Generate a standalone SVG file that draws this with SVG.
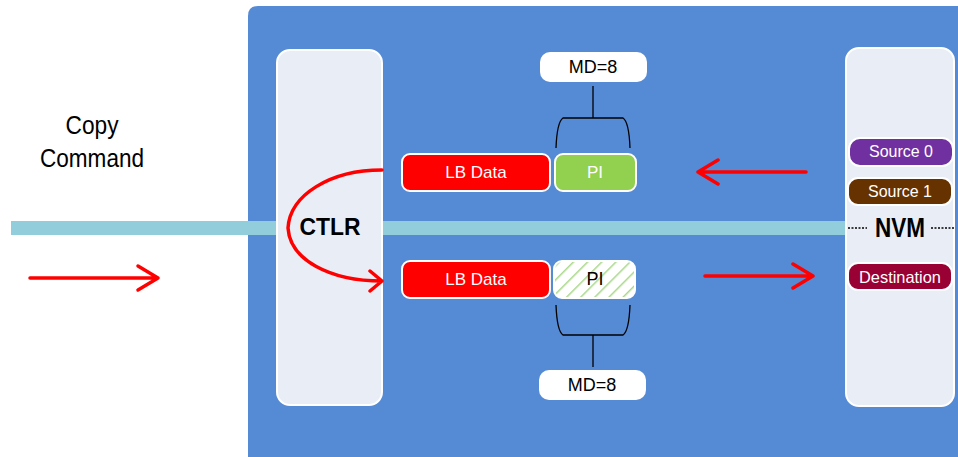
<svg xmlns="http://www.w3.org/2000/svg" width="958" height="457" viewBox="0 0 958 457">
<defs>
<style>
.t{font-family:"Liberation Sans",Arial,sans-serif}
.panel{fill:#e9eef6;stroke:#ffffff;stroke-width:2}
.cell{stroke:#ffffff;stroke-width:2}
.md{fill:#ffffff}
.wt{fill:#ffffff;font-size:17px;text-anchor:middle}
.bt{fill:#000000;font-size:18px;text-anchor:middle}
.pill{fill:#ffffff;font-size:16.5px;text-anchor:middle}
.brk{fill:none;stroke:#000000;stroke-width:1.3}
.red{fill:none;stroke:#ff0000;stroke-width:3.5;stroke-linecap:round;stroke-linejoin:round}
</style>
<pattern id="hatch" patternUnits="userSpaceOnUse" width="10" height="10" patternTransform="rotate(45)">
<rect width="10" height="10" fill="#ffffff"/>
<line x1="0" y1="0" x2="0" y2="10" stroke="#a9d88a" stroke-width="3"/>
</pattern>
</defs>
<rect width="958" height="457" fill="#ffffff"/>
<path d="M248,16 Q248,6 258,6 L958,6 L958,457 L248,457 Z" fill="#558ad5"/>
<rect x="11" y="221" width="840" height="14" fill="#92cddb"/>

<g id="ctlr">
<rect class="panel" x="277" y="50" width="105" height="355" rx="13"/>
<text class="t" x="330" y="235" font-size="24.5" font-weight="bold" text-anchor="middle" textLength="61" lengthAdjust="spacingAndGlyphs">CTLR</text>
</g>

<g id="nvm">
<rect class="panel" x="846" y="48" width="108" height="358" rx="13"/>
<text class="t" x="900" y="237" font-size="27" font-weight="bold" text-anchor="middle" textLength="50" lengthAdjust="spacingAndGlyphs">NVM</text>
<line x1="848" y1="228" x2="867" y2="228" stroke="#000" stroke-width="1.3" stroke-dasharray="2,1.5"/>
<line x1="931" y1="228" x2="954" y2="228" stroke="#000" stroke-width="1.3" stroke-dasharray="2,1.5"/>
</g>
<g id="source0">
<rect class="cell" x="849" y="138" width="104" height="28" rx="11" fill="#7030a0"/>
<text class="t pill" x="901" y="157" textLength="64" lengthAdjust="spacingAndGlyphs">Source 0</text>
</g>
<g id="source1">
<rect class="cell" x="848" y="178" width="104" height="27" rx="10" fill="#663300"/>
<text class="t pill" x="900" y="196.5" textLength="64" lengthAdjust="spacingAndGlyphs">Source 1</text>
</g>
<g id="destination">
<rect class="cell" x="848" y="263" width="104" height="27" rx="10" fill="#990033"/>
<text class="t pill" x="900" y="282.5" textLength="82" lengthAdjust="spacingAndGlyphs">Destination</text>
</g>

<g id="lbdata-top">
<rect class="cell" x="402" y="154" width="148" height="37" rx="8" fill="#ff0000"/>
<text class="t wt" x="476" y="178">LB Data</text>
</g>
<g id="pi-top">
<rect class="cell" x="555" y="154" width="81" height="37" rx="8" fill="#92d050"/>
<text class="t wt" x="595" y="178">PI</text>
</g>
<g id="lbdata-bottom">
<rect class="cell" x="402" y="261" width="148" height="37" rx="8" fill="#ff0000"/>
<text class="t wt" x="476" y="285">LB Data</text>
</g>
<g id="pi-bottom">
<rect class="cell" x="554" y="261" width="81" height="37" rx="8" fill="url(#hatch)"/>
<text class="t bt" x="595" y="285" font-size="17">PI</text>
</g>
<g id="md-top">
<rect class="md" x="540" y="52" width="107" height="30" rx="10"/>
<text class="t bt" x="593" y="73">MD=8</text>
</g>
<g id="md-bottom">
<rect class="md" x="539" y="370" width="107" height="30" rx="10"/>
<text class="t bt" x="592" y="391">MD=8</text>
</g>

<g id="copy-command">
<text class="t" x="92" y="134" font-size="26" text-anchor="middle" textLength="53" lengthAdjust="spacingAndGlyphs">Copy</text>
<text class="t" x="92" y="167" font-size="26" text-anchor="middle" textLength="104" lengthAdjust="spacingAndGlyphs">Command</text>
</g>

<g id="connectors">
<path class="brk" d="M593,86 V118 M556,148 Q557,122 563,118 H623 Q629,122 630,148"/>
<path class="brk" d="M593,367 V335 M556,305 Q557,331 563,335 H623 Q629,331 630,305"/>
<path class="red" d="M30,278 H158 M138,266 L158,278 L138,290"/>
<path class="red" d="M806,172 H698 M718,160 L698,172 L718,184"/>
<path class="red" d="M705,276 H813 M793,264 L813,276 L793,288"/>
<path class="red" d="M382,170 C330,170 290,195 288,228 C290,260 330,281 382,281 M370,271 L382,281 L370,291"/>
</g>
</svg>
